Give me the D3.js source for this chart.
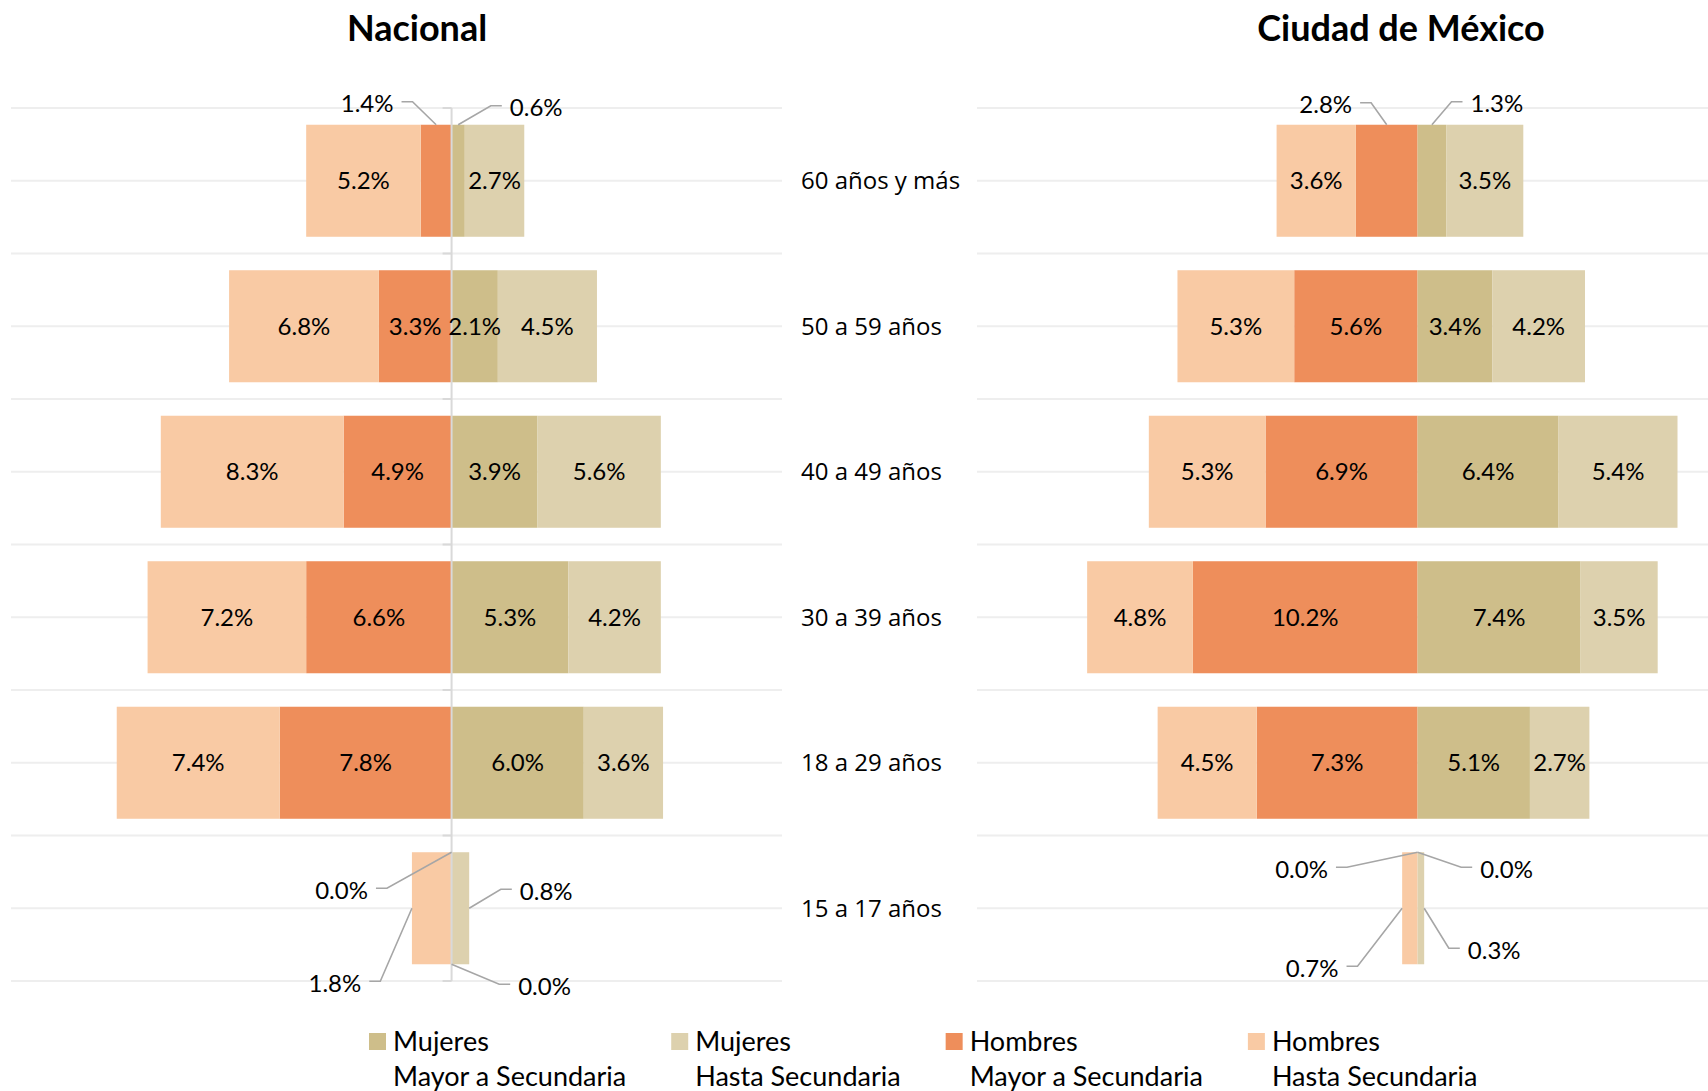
<!DOCTYPE html>
<html>
<head>
<meta charset="utf-8">
<script src="https://cdn.jsdelivr.net/npm/d3@7"></script>
<style>
  body { margin: 0; background: #fff; }
  .title { font-family: Lato, sans-serif; font-weight: bold; font-size: 36px; fill: #000; }
  .cat-label { font-family: "Open Sans", sans-serif; font-size: 24px; fill: #000; }
  .val-label { font-family: Lato, sans-serif; font-size: 24px; fill: #000; }
  .legend-text { font-family: Lato, sans-serif; font-size: 27px; fill: #000; }
  .grid line { stroke: #eeeeee; stroke-width: 2; }
  .axis-line { stroke: #d9d9d9; stroke-width: 2; }
  .leader { fill: none; stroke: #a6a6a6; stroke-width: 1.6; }
</style>
</head>
<body>
<svg id="chart" width="1708" height="1091"></svg>
<script>
// categories top to bottom
const categories = ["60 años y más", "50 a 59 años", "40 a 49 años", "30 a 39 años", "18 a 29 años", "15 a 17 años"];

// Nacional (%)
const nacHombresHasta = [5.2, 6.8, 8.3, 7.2, 7.4, 1.8];
const nacHombresMayor = [1.4, 3.3, 4.9, 6.6, 7.8, 0.0];
const nacMujeresMayor = [0.6, 2.1, 3.9, 5.3, 6.0, 0.0];
const nacMujeresHasta = [2.7, 4.5, 5.6, 4.2, 3.6, 0.8];

// Ciudad de México (%)
const cdmxHombresHasta = [3.6, 5.3, 5.3, 4.8, 4.5, 0.7];
const cdmxHombresMayor = [2.8, 5.6, 6.9, 10.2, 7.3, 0.0];
const cdmxMujeresMayor = [1.3, 3.4, 6.4, 7.4, 5.1, 0.0];
const cdmxMujeresHasta = [3.5, 4.2, 5.4, 3.5, 2.7, 0.3];

const legendItems = [
  {key: "mm", line1: "Mujeres", line2: "Mayor a Secundaria"},
  {key: "mh", line1: "Mujeres", line2: "Hasta Secundaria"},
  {key: "hm", line1: "Hombres", line2: "Mayor a Secundaria"},
  {key: "hh", line1: "Hombres", line2: "Hasta Secundaria"}
];

const colors = {hh: "#f9caa4", hm: "#ee8e5b", mm: "#cebe8a", mh: "#ddd1ae"};

// labels drawn outside the bar, with leader lines (offset of label from anchor)
const nacOutside = [
  {cat: 0, key: "hm", at: "top", dx: -69, dy: -21},
  {cat: 0, key: "mm", at: "top", dx: 78, dy: -17},
  {cat: 5, key: "hm", at: "top", dx: -110, dy: 38},
  {cat: 5, key: "hh", at: "outer", dx: -77, dy: 75},
  {cat: 5, key: "mh", at: "outer", dx: 77, dy: -17},
  {cat: 5, key: "mm", at: "bottom", dx: 93, dy: 22}
];
const cdmxOutside = [
  {cat: 0, key: "hm", at: "top", dx: -61, dy: -20},
  {cat: 0, key: "mm", at: "top", dx: 65, dy: -21},
  {cat: 5, key: "hm", at: "top", dx: -116, dy: 17},
  {cat: 5, key: "mm", at: "top", dx: 89, dy: 17},
  {cat: 5, key: "hh", at: "outer", dx: -90, dy: 60},
  {cat: 5, key: "mh", at: "outer", dx: 70, dy: 42}
];

const svg = d3.select("#chart");

const y = d3.scaleBand()
  .domain(categories)
  .range([108, 981])
  .paddingInner(0.23)
  .paddingOuter(0.115);

function fmt(v) { return v.toFixed(1) + "%"; }

function buildSegments(hh, hm, mm, mh) {
  const segs = [];
  categories.forEach((c, i) => {
    segs.push({cat: i, key: "hm", value: hm[i], x0: -hm[i], x1: 0});
    segs.push({cat: i, key: "hh", value: hh[i], x0: -hm[i] - hh[i], x1: -hm[i]});
    segs.push({cat: i, key: "mm", value: mm[i], x0: 0, x1: mm[i]});
    segs.push({cat: i, key: "mh", value: mh[i], x0: mm[i], x1: mm[i] + mh[i]});
  });
  return segs;
}

function drawPanel(opts) {
  const x = d3.scaleLinear().domain([-20, 15]).range(opts.range);
  const g = svg.append("g");

  // gridlines at band edges and band centers
  const step = y.step();
  const top = y.range()[0];
  const gridYs = d3.range(categories.length * 2 + 1).map(i => top + i * step / 2);
  g.append("g").attr("class", "grid")
    .selectAll("line").data(gridYs).join("line")
    .attr("x1", opts.range[0]).attr("x2", opts.range[1])
    .attr("y1", d => d).attr("y2", d => d);

  const segs = buildSegments(opts.hh, opts.hm, opts.mm, opts.mh);

  g.append("g").selectAll("rect").data(segs).join("rect")
    .attr("x", d => x(d.x0))
    .attr("width", d => x(d.x1) - x(d.x0))
    .attr("y", d => y(categories[d.cat]))
    .attr("height", y.bandwidth())
    .attr("fill", d => colors[d.key]);

  if (opts.axis) {
    g.append("line").attr("class", "axis-line")
      .attr("x1", x(0)).attr("x2", x(0))
      .attr("y1", top).attr("y2", y.range()[1]);
    const edges = d3.range(categories.length + 1).map(i => top + i * step);
    g.append("g").selectAll("line").data(edges).join("line")
      .attr("class", "axis-line")
      .attr("x1", x(0) - 9).attr("x2", x(0))
      .attr("y1", d => d).attr("y2", d => d);
  }

  const outsideKey = d => d.cat + "-" + d.key;
  const outsideMap = new Map(opts.outside.map(o => [outsideKey(o), o]));

  // labels inside the bars
  g.append("g").selectAll("text")
    .data(segs.filter(d => !outsideMap.has(outsideKey(d))))
    .join("text")
    .attr("class", "val-label")
    .attr("text-anchor", "middle")
    .attr("dy", "0.35em")
    .attr("x", d => x((d.x0 + d.x1) / 2))
    .attr("y", d => y(categories[d.cat]) + y.bandwidth() / 2)
    .text(d => fmt(d.value));

  // labels outside with leader lines
  const lab = g.append("g");
  opts.outside.forEach(o => {
    const d = segs.find(s => s.cat === o.cat && s.key === o.key);
    const by = y(categories[d.cat]);
    let ax, ay;
    if (o.at === "top") { ax = x((d.x0 + d.x1) / 2); ay = by; }
    else if (o.at === "bottom") { ax = x((d.x0 + d.x1) / 2); ay = by + y.bandwidth(); }
    else {
      ax = d.key === "hh" ? x(d.x0) : x(d.x1);
      ay = by + y.bandwidth() / 2;
    }
    const lx = ax + o.dx, ly = ay + o.dy;
    const t = lab.append("text")
      .attr("class", "val-label")
      .attr("text-anchor", "middle")
      .attr("dy", "0.35em")
      .attr("x", lx).attr("y", ly)
      .text(fmt(d.value));
    const w = t.node().getComputedTextLength();
    const side = o.dx < 0 ? 1 : -1;
    const ex = lx + side * (w / 2 + 8);
    const elbow = ex + side * 11;
    lab.insert("path", "text")
      .attr("class", "leader")
      .attr("d", d3.line()([[ex, ly - 2], [elbow, ly - 2], [ax, ay]]));
  });

  svg.append("text").attr("class", "title")
    .attr("text-anchor", "middle")
    .attr("x", opts.titleX).attr("y", 41)
    .text(opts.title);
}

drawPanel({
  title: "Nacional", titleX: 417, range: [11, 782], axis: true,
  hh: nacHombresHasta, hm: nacHombresMayor, mm: nacMujeresMayor, mh: nacMujeresHasta,
  outside: nacOutside
});
drawPanel({
  title: "Ciudad de México", titleX: 1401, range: [977, 1748], axis: false,
  hh: cdmxHombresHasta, hm: cdmxHombresMayor, mm: cdmxMujeresMayor, mh: cdmxMujeresHasta,
  outside: cdmxOutside
});

// category labels between panels
svg.append("g").selectAll("text").data(categories).join("text")
  .attr("class", "cat-label")
  .attr("x", 801)
  .attr("y", d => y(d) + y.bandwidth() / 2)
  .attr("dy", "0.35em")
  .text(d => d);

// legend
const legend = svg.append("g");
let lx = 369;
legendItems.forEach(item => {
  const gi = legend.append("g").attr("transform", `translate(${lx},0)`);
  gi.append("rect").attr("x", 0).attr("y", 1033).attr("width", 17).attr("height", 17)
    .attr("fill", colors[item.key]);
  gi.append("text").attr("class", "legend-text").attr("x", 24).attr("y", 1042).attr("dy", "0.35em").text(item.line1);
  const t2 = gi.append("text").attr("class", "legend-text").attr("x", 24).attr("y", 1077).attr("dy", "0.35em").text(item.line2);
  lx += 24 + t2.node().getComputedTextLength() + 45;
});
</script>
</body>
</html>
